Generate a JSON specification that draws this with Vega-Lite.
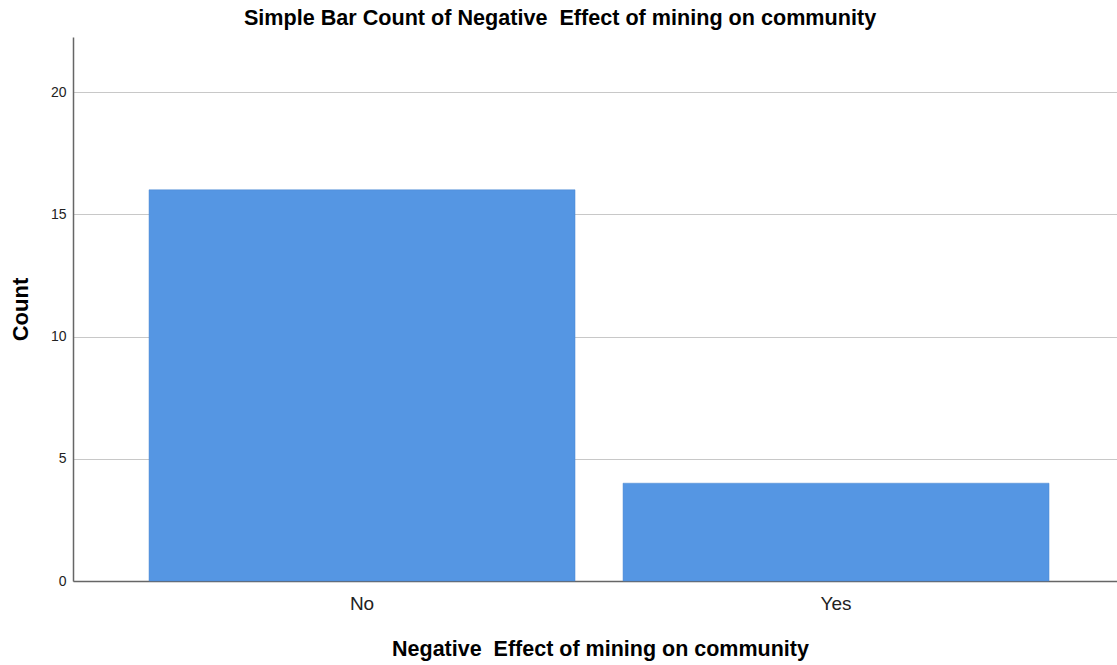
{
  "$schema": "https://vega.github.io/schema/vega-lite/v6.json",
  "autosize": {"type": "none"},
  "width": 1044,
  "height": 544,
  "padding": {"left": 73, "top": 37, "right": 0, "bottom": 84},
  "background": "white",
  "title": {
    "text": "Simple Bar Count of Negative\u00a0 Effect of mining on community",
    "font": "Liberation Sans",
    "fontSize": 21.6,
    "fontWeight": "bold",
    "color": "#000000",
    "anchor": "middle",
    "dx": -35,
    "offset": 7
  },
  "data": {
    "values": [
      {"category": "No", "count": 16},
      {"category": "Yes", "count": 4}
    ]
  },
  "mark": {"type": "bar", "color": "#5596E3", "stroke": "#4A86D0", "strokeWidth": 0.5},
  "encoding": {
    "x": {
      "field": "category",
      "type": "nominal",
      "sort": null,
      "scale": {"paddingInner": 0.1013, "paddingOuter": 0.1519, "align": 0.528},
      "axis": {
        "title": "Negative\u00a0 Effect of mining on community",
        "titleFont": "Liberation Sans",
        "titleFontSize": 21.5,
        "titleFontWeight": "bold",
        "titleColor": "#000000",
        "titlePadding": 25,
        "titleX": 527,
        "titleAlign": "center",
        "labelFont": "Liberation Sans",
        "labelFontSize": 19,
        "labelColor": "#222222",
        "labelAngle": 0,
        "labelPadding": 13,
        "ticks": false,
        "domain": true,
        "domainColor": "#666666",
        "domainWidth": 1.5,
        "grid": false
      }
    },
    "y": {
      "field": "count",
      "type": "quantitative",
      "scale": {"domain": [0, 22.25], "nice": false},
      "axis": {
        "title": "Count",
        "titleFont": "Liberation Sans",
        "titleFontSize": 22,
        "titleFontWeight": "bold",
        "titleColor": "#000000",
        "titleAngle": -90,
        "titleX": -53,
        "titleY": 272,
        "titleAlign": "center",
        "titleBaseline": "middle",
        "values": [0, 5, 10, 15, 20],
        "labelFont": "Liberation Sans",
        "labelFontSize": 14,
        "labelColor": "#222222",
        "labelPadding": 7,
        "ticks": false,
        "domain": true,
        "domainColor": "#666666",
        "domainWidth": 1.5,
        "grid": true,
        "gridColor": "#C8C8C8",
        "gridWidth": 1.2
      }
    }
  },
  "config": {"view": {"stroke": null}}
}
